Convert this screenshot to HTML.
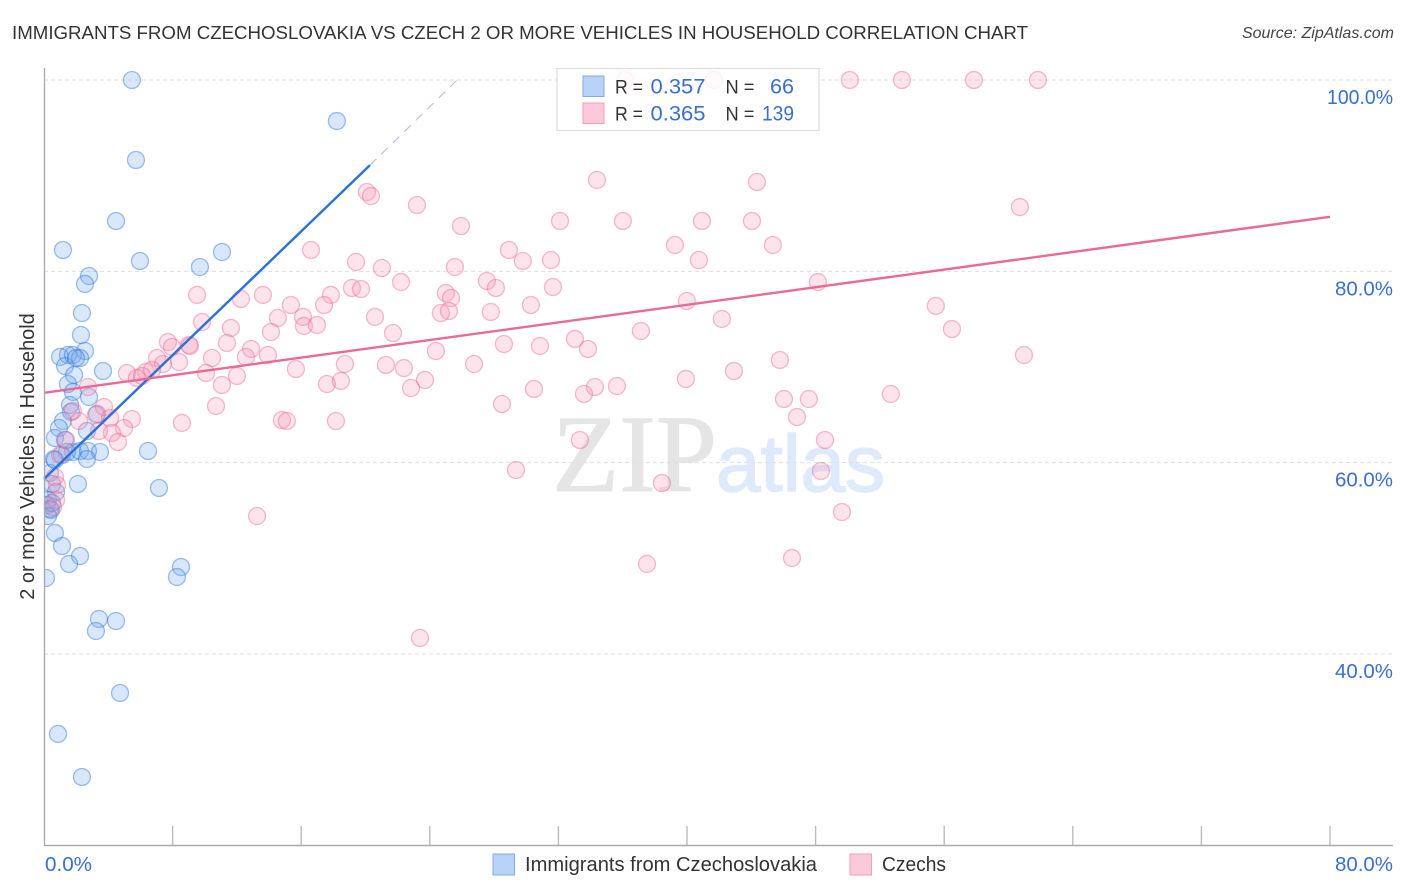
<!DOCTYPE html>
<html lang="en">
<head>
<meta charset="utf-8">
<title>Immigrants from Czechoslovakia vs Czech 2 or more Vehicles in Household Correlation Chart</title>
<style>
  html, body { margin: 0; padding: 0; background: #fff; }
  body { width: 1406px; height: 892px; overflow: hidden; }
  svg { display: block; font-family: "Liberation Sans", Arial, sans-serif; }
</style>
</head>
<body>
<svg id="chart" xmlns="http://www.w3.org/2000/svg" width="1406" height="892" viewBox="0 0 1406 892">
  <defs>
    <clipPath id="plot-clip"><rect x="44.5" y="60" width="1350" height="785"></rect></clipPath>
  </defs>
  <rect x="0" y="0" width="1406" height="892" fill="#ffffff"></rect>
  <text x="12" y="39" font-size="18.7" textLength="1016" lengthAdjust="spacing" fill="#333333">IMMIGRANTS FROM CZECHOSLOVAKIA VS CZECH 2 OR MORE VEHICLES IN HOUSEHOLD CORRELATION CHART</text>
  <text x="1394" y="38" font-size="16" font-style="italic" text-anchor="end" fill="#444444">Source: ZipAtlas.com</text>
  <g>
    <text x="552" y="491" font-size="110" font-family="'Liberation Serif', serif" fill="#e5e5e5" stroke="#e5e5e5" stroke-width="1">ZIP</text>
    <text x="716" y="491" font-size="80" fill="#deeafa" stroke="#deeafa" stroke-width="1.5">atlas</text>
  </g>
  <g id="grid"></g>
  <g id="points-blue" clip-path="url(#plot-clip)"></g>
  <g id="points-pink" clip-path="url(#plot-clip)"></g>
  <g id="trends"></g>
  <g id="axes"></g>
  <text transform="translate(34,456.5) rotate(-90)" font-size="19.9" text-anchor="middle" fill="#333333">2 or more Vehicles in Household</text>

  <g>
    <rect x="557" y="68.5" width="262" height="62" fill="#ffffff" fill-opacity="0.82" stroke="#dddddd" stroke-width="1.2"></rect>
    <rect x="583" y="76" width="21" height="20.5" fill="#b9d3f6" stroke="#7fabe6" stroke-width="1"></rect>
    <rect x="583" y="103" width="21" height="20.5" fill="#fcc9da" stroke="#f29db9" stroke-width="1"></rect>
    <text x="615" y="93.5" font-size="19.5" textLength="28" lengthAdjust="spacingAndGlyphs" fill="#333333">R =</text>
    <text x="650.5" y="93.5" font-size="21" textLength="55" lengthAdjust="spacingAndGlyphs" fill="#3a6fd0">0.357</text>
    <text x="725.5" y="93.5" font-size="19.5" textLength="29" lengthAdjust="spacingAndGlyphs" fill="#333333">N =</text>
    <text x="770" y="93.5" font-size="21" textLength="24" lengthAdjust="spacingAndGlyphs" fill="#3a6fd0">66</text>
    <text x="615" y="120.5" font-size="19.5" textLength="28" lengthAdjust="spacingAndGlyphs" fill="#333333">R =</text>
    <text x="650.5" y="120.5" font-size="21" textLength="55" lengthAdjust="spacingAndGlyphs" fill="#3a6fd0">0.365</text>
    <text x="725.5" y="120.5" font-size="19.5" textLength="29" lengthAdjust="spacingAndGlyphs" fill="#333333">N =</text>
    <text x="762" y="120.5" font-size="21" textLength="32" lengthAdjust="spacingAndGlyphs" fill="#3a6fd0">139</text>
  </g>

  <g>
    <g>
      <rect x="493" y="854" width="21.5" height="21" fill="#b9d3f6" stroke="#7fabe6" stroke-width="1"></rect>
      <text x="525" y="871" font-size="20" textLength="292" lengthAdjust="spacingAndGlyphs" fill="#333333">Immigrants from Czechoslovakia</text>
    </g>
    <g>
      <rect x="850" y="854" width="21.5" height="21" fill="#fcc9da" stroke="#f29db9" stroke-width="1"></rect>
      <text x="882" y="871" font-size="20" textLength="64" lengthAdjust="spacingAndGlyphs" fill="#333333">Czechs</text>
    </g>
  </g>
</svg>

<script>
// ---- Axis domain and tick values
const xDomain = [0, 80];
const yDomain = [100, 20];
const xTickValues = [0, 8, 16, 24, 32, 40, 48, 56, 64, 72, 80];
const yTickValues = [100, 80, 60, 40];
const yTickLabels = ["100.0%", "80.0%", "60.0%", "40.0%"];
const xEndLabels = ["0.0%", "80.0%"];

// ---- Immigrants from Czechoslovakia (x %, y %)
const blueX = [5.47,18.22,5.72,4.48,1.18,5.97,9.70,11.07,2.80,2.55,2.36,2.30,2.55,1.49,1.00,1.80,2.24,1.31,1.87,3.67,1.49,1.80,2.80,1.62,1.68,3.30,1.18,0.93,2.67,0.68,1.31,1.80,1.12,1.43,2.24,2.74,3.48,6.47,2.67,0.62,0.37,0.50,2.11,7.15,0.75,0.25,0.19,0.37,0.44,0.25,0.68,1.12,2.24,1.56,8.52,8.27,0.12,3.42,4.48,3.23,4.73,0.87,2.36,1.99,0.68,0.50];
const blueY = [100,95.71,91.64,85.26,82.23,81.08,80.45,82.02,79.51,78.68,75.64,73.34,71.67,71.25,71.05,71.25,70.94,70.10,69.16,69.58,68.22,67.39,66.86,66.03,65.30,65.09,64.35,63.62,63.31,62.58,62.37,61.11,60.80,61.11,61.22,61.22,61.11,61.22,60.38,60.38,58.92,57.77,57.77,57.35,56.93,56.10,55.57,55.16,55.05,54.42,52.65,51.29,50.24,49.41,49.09,48.05,47.94,43.66,43.45,42.40,35.92,31.64,27.14,70.94,60.28,55.78];

// ---- Czechs (x %, y %)
const pinkX = [36.14,41.67,50.13,53.37,57.85,61.83,34.40,44.35,20.09,20.34,23.20,60.71,32.10,36.01,40.93,44.04,25.94,39.25,45.34,16.61,28.92,40.74,19.41,29.79,31.54,25.56,21.02,27.55,22.21,48.14,19.16,19.72,28.11,31.66,9.52,12.25,13.62,17.85,25.00,25.32,15.36,17.42,30.29,39.99,55.48,24.69,25.19,27.80,14.55,16.11,20.59,42.17,9.83,16.17,16.98,11.63,14.12,21.71,37.13,56.48,7.71,7.96,11.38,9.02,9.08,12.88,33.03,28.61,30.85,33.84,24.38,60.96,7.03,8.40,7.40,12.56,13.93,10.45,45.78,26.75,21.27,18.72,22.39,15.67,5.16,6.34,6.72,5.78,6.10,10.08,12.00,42.92,35.64,39.93,23.70,17.60,18.47,22.83,11.07,34.27,33.59,30.48,52.68,2.74,46.03,47.58,28.49,3.73,10.70,46.84,1.80,3.23,4.11,14.80,15.11,18.16,8.58,5.47,2.18,4.98,4.23,3.42,4.60,1.37,48.58,33.34,29.36,48.33,38.44,0.81,0.68,0.75,0.56,49.64,13.25,46.53,37.51,23.39,1.00];
const pinkY = [100,100,100,100,100,100,89.55,89.34,88.29,87.87,86.93,86.72,85.26,85.26,85.26,85.26,84.74,82.75,82.75,82.23,82.23,81.18,80.98,81.08,81.18,80.45,80.35,78.99,78.88,78.88,78.26,78.15,78.26,78.36,77.53,77.11,77.53,77.53,77.73,77.21,76.48,76.48,76.48,76.90,76.38,75.64,75.85,75.75,75.12,75.23,75.23,75.02,74.70,74.29,74.39,74.08,73.66,73.55,73.76,73.97,72.61,72.09,72.51,72.30,72.19,71.88,72.93,72.40,72.20,71.88,71.67,71.25,70.94,70.52,70.31,71.05,71.25,70.94,70.73,70.31,70.21,70.31,69.89,69.79,69.37,69.48,69.69,68.85,69.06,69.37,69.06,69.58,68.01,68.75,68.64,68.22,68.54,67.80,68.12,67.91,67.18,67.70,67.18,67.91,66.65,66.65,66.13,65.82,65.92,64.77,65.40,64.98,64.67,64.46,64.35,64.35,64.15,64.56,64.35,63.62,63.10,63.31,62.16,62.37,62.37,62.37,59.23,59.13,57.87,57.66,58.50,56.10,55.36,54.84,54.42,50.03,49.41,41.67,60.80];

// ---- Trend lines: [x %, y %] endpoints
const blueTrendSolid = [[0, 58.3], [20.28, 91.1]];
const blueTrendDashed = [[20.28, 91.1], [25.7, 100]];
const pinkTrend = [[0, 67.3], [80, 85.7]];

// ---- Axis functions
const xRange = [44, 1330];
const yRange = [80, 845.3];
function xScale(v) {
  return xRange[0] + (v - xDomain[0]) / (xDomain[1] - xDomain[0]) * (xRange[1] - xRange[0]);
}
function yScale(v) {
  return yRange[0] + (v - yDomain[0]) / (yDomain[1] - yDomain[0]) * (yRange[1] - yRange[0]);
}

const NS = "http://www.w3.org/2000/svg";
function make(tag, parent) {
  const el = document.createElementNS(NS, tag);
  parent.appendChild(el);
  return el;
}

const gridG = document.getElementById("grid");
const axesG = document.getElementById("axes");
const blueG = document.getElementById("points-blue");
const pinkG = document.getElementById("points-pink");
const trendG = document.getElementById("trends");

// Gridlines and y tick labels
yTickValues.forEach(function (v, i) {
  const line = make("line", gridG);
  
  
  line.setAttribute("x1", 44);
  line.setAttribute("x2", 1393);
  line.setAttribute("y1", yScale(v));
  line.setAttribute("y2", yScale(v));
  line.setAttribute("stroke", "#dedede");
  line.setAttribute("stroke-width", "1");
  line.setAttribute("stroke-dasharray", "4 3");
  const label = make("text", axesG);
  
  
  label.setAttribute("x", 1393);
  label.setAttribute("y", yScale(v) + 24);
  label.setAttribute("font-size", "20");
  label.setAttribute("text-anchor", "end");
  label.setAttribute("textLength", yTickLabels[i].length === 6 ? "66" : "58");
  label.setAttribute("lengthAdjust", "spacingAndGlyphs");
  label.setAttribute("fill", "#3a6fd0");
  label.textContent = yTickLabels[i];
});

// Axis lines
const yAxisLine = make("line", axesG);


yAxisLine.setAttribute("x1", 44.5);
yAxisLine.setAttribute("x2", 44.5);
yAxisLine.setAttribute("y1", 68);
yAxisLine.setAttribute("y2", 846);
yAxisLine.setAttribute("stroke", "#aaaaaa");
yAxisLine.setAttribute("stroke-width", "1.4");

const xAxisLine = make("line", axesG);


xAxisLine.setAttribute("x1", 44);
xAxisLine.setAttribute("x2", 1393);
xAxisLine.setAttribute("y1", 845.5);
xAxisLine.setAttribute("y2", 845.5);
xAxisLine.setAttribute("stroke", "#aaaaaa");
xAxisLine.setAttribute("stroke-width", "1.4");

// X ticks
xTickValues.forEach(function (v) {
  if (v === xDomain[0]) return;
  const tick = make("line", axesG);
  
  
  tick.setAttribute("x1", xScale(v));
  tick.setAttribute("x2", xScale(v));
  tick.setAttribute("y1", 826);
  tick.setAttribute("y2", 845);
  tick.setAttribute("stroke", "#bbbbbb");
  tick.setAttribute("stroke-width", "1.4");
});

// X end labels
const xLabelStart = make("text", axesG);


xLabelStart.setAttribute("x", 45);
xLabelStart.setAttribute("y", 871);
xLabelStart.setAttribute("font-size", "20");
xLabelStart.setAttribute("textLength", "47");
xLabelStart.setAttribute("lengthAdjust", "spacingAndGlyphs");
xLabelStart.setAttribute("fill", "#3a6fd0");
xLabelStart.textContent = xEndLabels[0];

const xLabelEnd = make("text", axesG);


xLabelEnd.setAttribute("x", 1393);
xLabelEnd.setAttribute("y", 871);
xLabelEnd.setAttribute("font-size", "20");
xLabelEnd.setAttribute("text-anchor", "end");
xLabelEnd.setAttribute("textLength", "58");
xLabelEnd.setAttribute("lengthAdjust", "spacingAndGlyphs");
xLabelEnd.setAttribute("fill", "#3a6fd0");
xLabelEnd.textContent = xEndLabels[1];

// Points
blueX.forEach(function (x, i) {
  const c = make("circle", blueG);
  
  
  c.setAttribute("cx", xScale(x));
  c.setAttribute("cy", yScale(blueY[i]));
  c.setAttribute("r", "8.5");
  c.setAttribute("fill", "rgba(110,165,235,0.27)");
  c.setAttribute("stroke", "rgba(45,115,215,0.45)");
  c.setAttribute("stroke-width", "1.3");
});
pinkX.forEach(function (x, i) {
  const c = make("circle", pinkG);
  
  
  c.setAttribute("cx", xScale(x));
  c.setAttribute("cy", yScale(pinkY[i]));
  c.setAttribute("r", "8.5");
  c.setAttribute("fill", "rgba(248,150,182,0.27)");
  c.setAttribute("stroke", "rgba(232,95,145,0.42)");
  c.setAttribute("stroke-width", "1.3");
});

// Trend lines
const blueSolidLine = make("line", trendG);


blueSolidLine.setAttribute("x1", xScale(blueTrendSolid[0][0]));
blueSolidLine.setAttribute("y1", yScale(blueTrendSolid[0][1]));
blueSolidLine.setAttribute("x2", xScale(blueTrendSolid[1][0]));
blueSolidLine.setAttribute("y2", yScale(blueTrendSolid[1][1]));
blueSolidLine.setAttribute("stroke", "#2b72d8");
blueSolidLine.setAttribute("stroke-width", "2.4");

const blueDashLine = make("line", trendG);


blueDashLine.setAttribute("x1", xScale(blueTrendDashed[0][0]));
blueDashLine.setAttribute("y1", yScale(blueTrendDashed[0][1]));
blueDashLine.setAttribute("x2", xScale(blueTrendDashed[1][0]));
blueDashLine.setAttribute("y2", yScale(blueTrendDashed[1][1]));
blueDashLine.setAttribute("stroke", "#a9bce6");
blueDashLine.setAttribute("stroke-width", "1");
blueDashLine.setAttribute("stroke-dasharray", "9 7");

const pinkLine = make("line", trendG);


pinkLine.setAttribute("x1", xScale(pinkTrend[0][0]));
pinkLine.setAttribute("y1", yScale(pinkTrend[0][1]));
pinkLine.setAttribute("x2", xScale(pinkTrend[1][0]));
pinkLine.setAttribute("y2", yScale(pinkTrend[1][1]));
pinkLine.setAttribute("stroke", "#ea6a97");
pinkLine.setAttribute("stroke-width", "2.4");
</script>
</body>
</html>
